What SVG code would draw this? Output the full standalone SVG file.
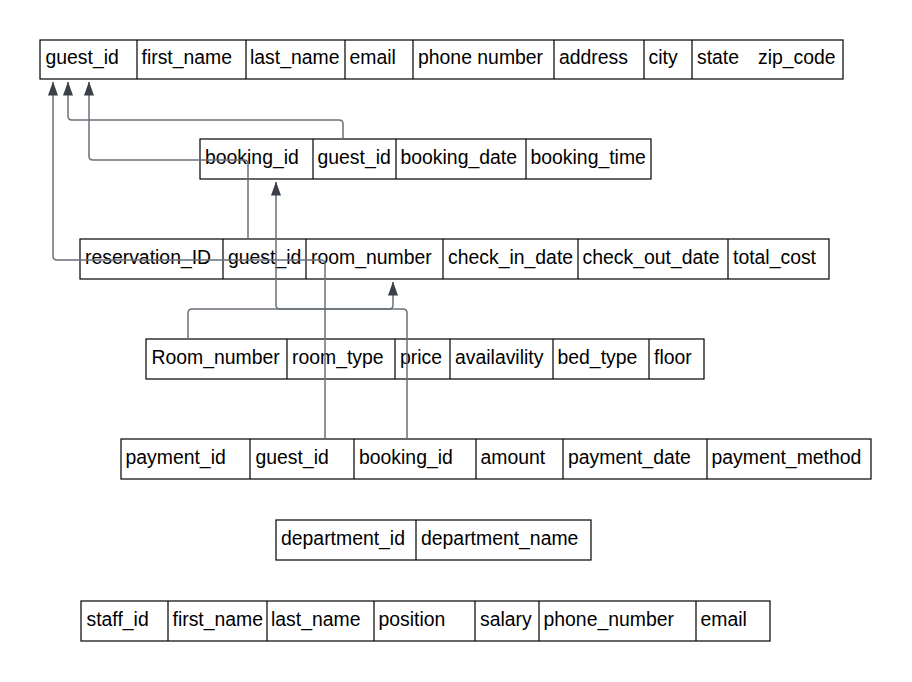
<svg xmlns="http://www.w3.org/2000/svg" width="912" height="682" viewBox="0 0 912 682">
<defs>
<style>
.t{font-family:"Liberation Sans",Arial,sans-serif;font-size:19.4px;fill:#000}
.box{fill:#fff;stroke:#000;stroke-width:1.2}
.div{stroke:#000;stroke-width:1.2}
.c{fill:none;stroke:#6a7078;stroke-width:1.5}
</style>
<marker id="ah" viewBox="0 0 14 10" refX="13.5" refY="5" markerWidth="14" markerHeight="10" markerUnits="userSpaceOnUse" orient="auto">
<path d="M0,0 L14,5 L0,10 z" fill="#3b4049"/>
</marker>
</defs>
<rect width="912" height="682" fill="#fff"/>

<g id="guest">
<rect class="box" x="40" y="40" width="803" height="39"/>
<path class="div" d="M137,40V79M246,40V79M345,40V79M413,40V79M554,40V79M644,40V79M692,40V79"/>
<text class="t" x="45.5" y="63.5">guest_id</text>
<text class="t" x="141.5" y="63.5">first_name</text>
<text class="t" x="250" y="63.5">last_name</text>
<text class="t" x="349.5" y="63.5">email</text>
<text class="t" x="418" y="63.5">phone number</text>
<text class="t" x="559" y="63.5">address</text>
<text class="t" x="648.5" y="63.5">city</text>
<text class="t" x="697" y="63.5">state</text>
<text class="t" x="758" y="63.5">zip_code</text>
</g>

<g id="booking">
<rect class="box" x="200" y="139" width="451" height="40"/>
<path class="div" d="M313,139V179M396,139V179M526,139V179"/>
<text class="t" x="205" y="163.5">booking_id</text>
<text class="t" x="317.5" y="163.5">guest_id</text>
<text class="t" x="400.5" y="163.5">booking_date</text>
<text class="t" x="530.5" y="163.5">booking_time</text>
</g>

<g id="reservation">
<rect class="box" x="80" y="239" width="749" height="40"/>
<path class="div" d="M223,239V279M306,239V279M443,239V279M578,239V279M728,239V279"/>
<text class="t" x="85" y="263.5">reservation_ID</text>
<text class="t" x="228" y="263.5">guest_id</text>
<text class="t" x="311" y="263.5">room_number</text>
<text class="t" x="448" y="263.5">check_in_date</text>
<text class="t" x="582.5" y="263.5">check_out_date</text>
<text class="t" x="733" y="263.5">total_cost</text>
</g>

<g id="room">
<rect class="box" x="146" y="339" width="558" height="40"/>
<path class="div" d="M287,339V379M395,339V379M450,339V379M553,339V379M649,339V379"/>
<text class="t" x="151.5" y="363.5">Room_number</text>
<text class="t" x="292" y="363.5">room_type</text>
<text class="t" x="400" y="363.5">price</text>
<text class="t" x="455" y="363.5">availavility</text>
<text class="t" x="557.5" y="363.5">bed_type</text>
<text class="t" x="654" y="363.5">floor</text>
</g>

<g id="payment">
<rect class="box" x="121" y="439" width="750" height="40"/>
<path class="div" d="M250,439V479M354,439V479M476,439V479M563,439V479M707,439V479"/>
<text class="t" x="125.5" y="463.5">payment_id</text>
<text class="t" x="255.5" y="463.5">guest_id</text>
<text class="t" x="359" y="463.5">booking_id</text>
<text class="t" x="480.5" y="463.5">amount</text>
<text class="t" x="568" y="463.5">payment_date</text>
<text class="t" x="711.5" y="463.5">payment_method</text>
</g>

<g id="department">
<rect class="box" x="276" y="520" width="315" height="40"/>
<path class="div" d="M416,520V560"/>
<text class="t" x="281" y="544.5">department_id</text>
<text class="t" x="421" y="544.5">department_name</text>
</g>

<g id="staff">
<rect class="box" x="81" y="601" width="689" height="40"/>
<path class="div" d="M168,601V641M267,601V641M374,601V641M475,601V641M539,601V641M696,601V641"/>
<text class="t" x="86.5" y="625.5">staff_id</text>
<text class="t" x="172.5" y="625.5">first_name</text>
<text class="t" x="271" y="625.5">last_name</text>
<text class="t" x="378.5" y="625.5">position</text>
<text class="t" x="480" y="625.5">salary</text>
<text class="t" x="543.5" y="625.5">phone_number</text>
<text class="t" x="700.5" y="625.5">email</text>
</g>

<g id="connectors">
<path class="c" marker-end="url(#ah)" d="M325,439 V264 Q325,260 321,260 H57 Q53,260 53,256 V82"/>
<path class="c" marker-end="url(#ah)" d="M343,139 V124 Q343,120 339,120 H72 Q68,120 68,116 V82"/>
<path class="c" marker-end="url(#ah)" d="M248,239 V164 Q248,160 244,160 H93 Q89,160 89,156 V82"/>
<path class="c" marker-end="url(#ah)" d="M407,439 V313 Q407,309 403,309 H280 Q276,309 276,305 V182"/>
<path class="c" marker-end="url(#ah)" d="M188,339 V313 Q188,309 192,309 H389 Q393,309 393,305 V282"/>
</g>
</svg>
